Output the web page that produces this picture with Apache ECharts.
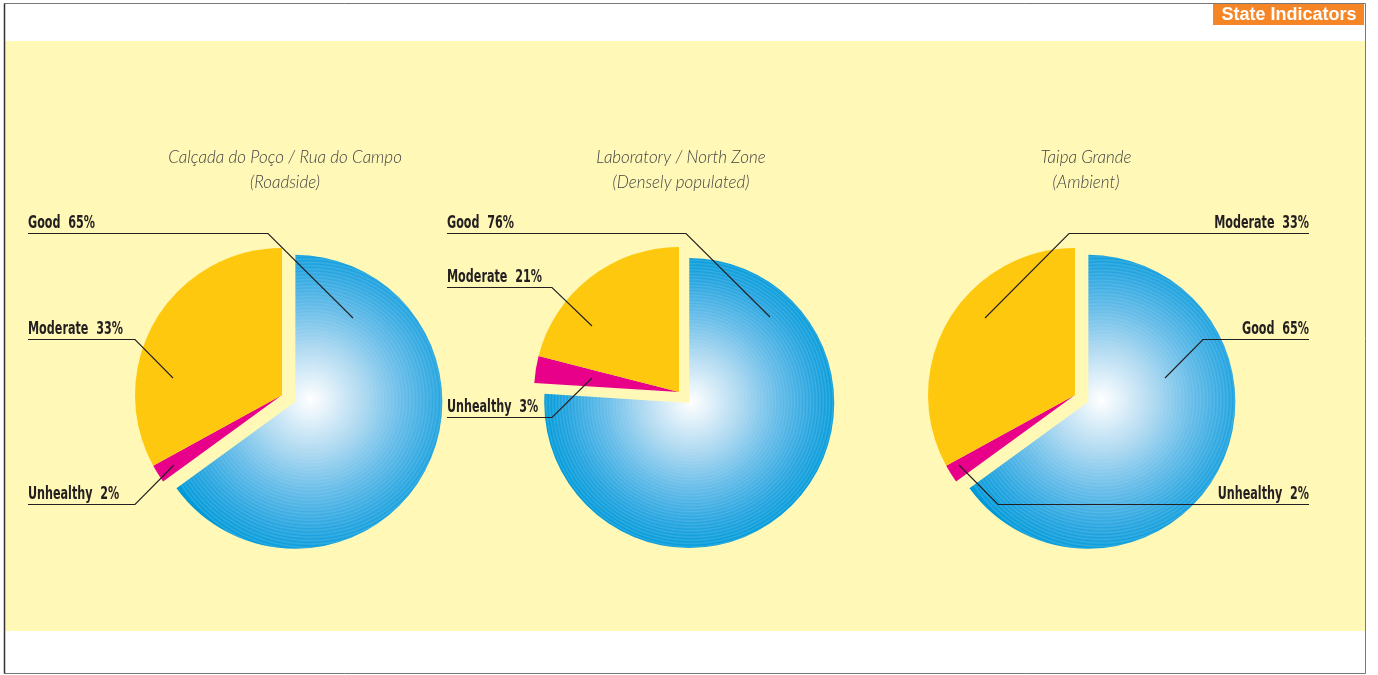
<!DOCTYPE html>
<html>
<head>
<meta charset="utf-8">
<script src="https://cdn.jsdelivr.net/npm/echarts@6/dist/echarts.min.js"></script>
<style>
  html, body { margin: 0; padding: 0; background: #ffffff; }
  #chart { width: 1378px; height: 675px; }
</style>
</head>
<body>
<div id="chart"></div>
<script>
// ---- Data ----
const stationNames = ['Calçada do Poço / Rua do Campo', 'Laboratory / North Zone', 'Taipa Grande'];
const stationTypes = ['(Roadside)', '(Densely populated)', '(Ambient)'];
const categories = ['Good', 'Unhealthy', 'Moderate'];
const goodPct = [65, 76, 65];
const unhealthyPct = [2, 3, 2];
const moderatePct = [33, 21, 33];
const headerText = 'State Indicators';

// ---- Layout ----
const pieCenters = [[282, 395], [679, 392], [1075, 395]];
const pieRadii = [147, 145, 147];
const explodeOffset = 15;
const titleX = [285, 681, 1086];
const highlightShift = [[15, -2], [2, -1], [13, -2]];
// callout layout per pie, keyed by category: side, text edge x, underline y, elbow x, anchor offset from pie centre
const callouts = [
  {
    Good:      { side: 'left',  textX: 28,   lineY: 233, elbowX: 268,  anchor: [71, -77] },
    Unhealthy: { side: 'left',  textX: 28,   lineY: 504, elbowX: 135,  anchor: [-108, 70] },
    Moderate:  { side: 'left',  textX: 28,   lineY: 339, elbowX: 135,  anchor: [-109, -17] }
  },
  {
    Good:      { side: 'left',  textX: 447,  lineY: 233, elbowX: 686,  anchor: [91, -75] },
    Unhealthy: { side: 'left',  textX: 447,  lineY: 417, elbowX: 552,  anchor: [-87, -14] },
    Moderate:  { side: 'left',  textX: 447,  lineY: 287, elbowX: 552,  anchor: [-87, -66] }
  },
  {
    Good:      { side: 'right', textX: 1309, lineY: 339, elbowX: 1203, anchor: [90, -17] },
    Unhealthy: { side: 'right', textX: 1309, lineY: 504, elbowX: 998,  anchor: [-116, 70] },
    Moderate:  { side: 'right', textX: 1309, lineY: 233, elbowX: 1069, anchor: [-90, -77] }
  }
];

// ---- Style ----
const COLORS = { Unhealthy: '#e8008a', Moderate: '#fec80e' };
const PANEL = '#fff8b7';
const INK = '#231f20';
const LABEL_FONT = 'bold 18px "DejaVu Sans Condensed", "DejaVu Sans", sans-serif';
const LABEL_SQUEEZE = 0.69;   // horizontal condensing of callout text
const TITLE_FONT = 'italic 300 17px Lato, "Open Sans", sans-serif';

function hexToRgb(h) {
  const n = parseInt(h.slice(1), 16);
  return [(n >> 16) & 255, (n >> 8) & 255, n & 255];
}
function rgbStr(c) { return 'rgb(' + c.map(v => Math.round(v)).join(',') + ')'; }
function lerp(a, b, t) { return a.map((v, i) => v + (b[i] - v) * t); }

// smooth white-to-blue ramp
const blueRamp = [[0, '#ffffff'], [0.1, '#e8f4fb'], [0.33, '#b0daf1'], [0.58, '#68bde9'], [0.84, '#22a3df'], [1, '#009ad9']]
  .map(s => [s[0], hexToRgb(s[1])]);
function rampAt(t) {
  for (let i = 1; i < blueRamp.length; i++) {
    if (t <= blueRamp[i][0]) {
      const a = blueRamp[i - 1], b = blueRamp[i];
      return lerp(a[1], b[1], (t - a[0]) / (b[0] - a[0]));
    }
  }
  return blueRamp[blueRamp.length - 1][1];
}
// fine concentric rings over the ramp
function blueStops() {
  const rings = 46, stops = [];
  for (let i = 0; i < rings; i++) {
    const t0 = i / rings, t1 = (i + 0.5) / rings;
    stops.push({ offset: t0, color: rgbStr(rampAt(t0)) });
    stops.push({ offset: t1, color: rgbStr(lerp(rampAt(t1), [255, 255, 255], 0.16 * t1)) });
  }
  stops.push({ offset: 1, color: rgbStr(rampAt(1)) });
  return stops;
}
const BLUE_STOPS = blueStops();

function blueFill(k) {
  const c = pieCenters[k], h = highlightShift[k];
  return {
    type: 'radial', global: true,
    x: c[0] + h[0], y: c[1] + h[1],
    r: pieRadii[k] + Math.hypot(h[0], h[1]) * 0.6,
    colorStops: BLUE_STOPS
  };
}

function pieValues(k) {
  return { Good: goodPct[k], Unhealthy: unhealthyPct[k], Moderate: moderatePct[k] };
}

const series = pieCenters.map((c, k) => {
  const vals = pieValues(k);
  return {
    type: 'pie',
    silent: true,
    center: c,
    radius: pieRadii[k],
    startAngle: 90,
    clockwise: true,
    selectedMode: 'single',
    selectedOffset: explodeOffset,
    label: { show: false },
    labelLine: { show: false },
    emphasis: { disabled: true, scale: false },
    select: { itemStyle: { borderWidth: 0 } },
    itemStyle: { borderWidth: 0 },
    data: categories.map(name => ({
      name,
      value: vals[name],
      selected: name === 'Good',
      itemStyle: { color: name === 'Good' ? blueFill(k) : COLORS[name] }
    }))
  };
});

// frame, panel, header, titles and callouts
const graphics = [
  { type: 'rect', z: 0, shape: { x: 5, y: 41, width: 1360, height: 590 }, style: { fill: PANEL } },
  { type: 'rect', z: 1, shape: { x: 4.5, y: 3.5, width: 1361, height: 670 }, style: { fill: null, stroke: '#777', lineWidth: 1 } },
  { type: 'line', z: 1, shape: { x1: 4.5, y1: 3.5, x2: 4.5, y2: 673.5 }, style: { stroke: '#333', lineWidth: 1.5 } },
  { type: 'rect', z: 5, shape: { x: 1213, y: 4, width: 151, height: 21 }, style: { fill: '#f68526' } },
  { type: 'text', z: 6, x: 1289, y: 15, style: {
      text: headerText, fill: '#ffffff', font: 'bold 18px "Liberation Sans", Arial, sans-serif',
      align: 'center', verticalAlign: 'middle' } }
];

stationNames.forEach((name, k) => {
  graphics.push({ type: 'text', z: 6, x: titleX[k], y: 158, style: {
    text: name, fill: '#444444', font: TITLE_FONT, align: 'center', verticalAlign: 'middle' } });
  graphics.push({ type: 'text', z: 6, x: titleX[k], y: 183, style: {
    text: stationTypes[k], fill: '#444444', font: TITLE_FONT, align: 'center', verticalAlign: 'middle' } });

  const vals = pieValues(k);
  categories.forEach(cat => {
    const L = callouts[k][cat];
    const c = pieCenters[k];
    const ax = c[0] + L.anchor[0], ay = c[1] + L.anchor[1];
    graphics.push({ type: 'polyline', z: 8, shape: {
      points: [[L.textX, L.lineY + 0.5], [L.elbowX, L.lineY + 0.5], [ax, ay]] },
      style: { stroke: INK, lineWidth: 1.1, fill: null } });
    graphics.push({ type: 'text', z: 8, x: L.textX, y: L.lineY - 1, scaleX: LABEL_SQUEEZE, style: {
      text: cat + '  ' + vals[cat] + '%', fill: INK, font: LABEL_FONT,
      align: L.side === 'left' ? 'left' : 'right', verticalAlign: 'bottom', lineHeight: 18 } });
  });
});

const chart = echarts.init(document.getElementById('chart'), null, { renderer: 'canvas' });
chart.setOption({
  animation: false,
  backgroundColor: '#ffffff',
  graphic: { elements: graphics },
  series
});
</script>
</body>
</html>
